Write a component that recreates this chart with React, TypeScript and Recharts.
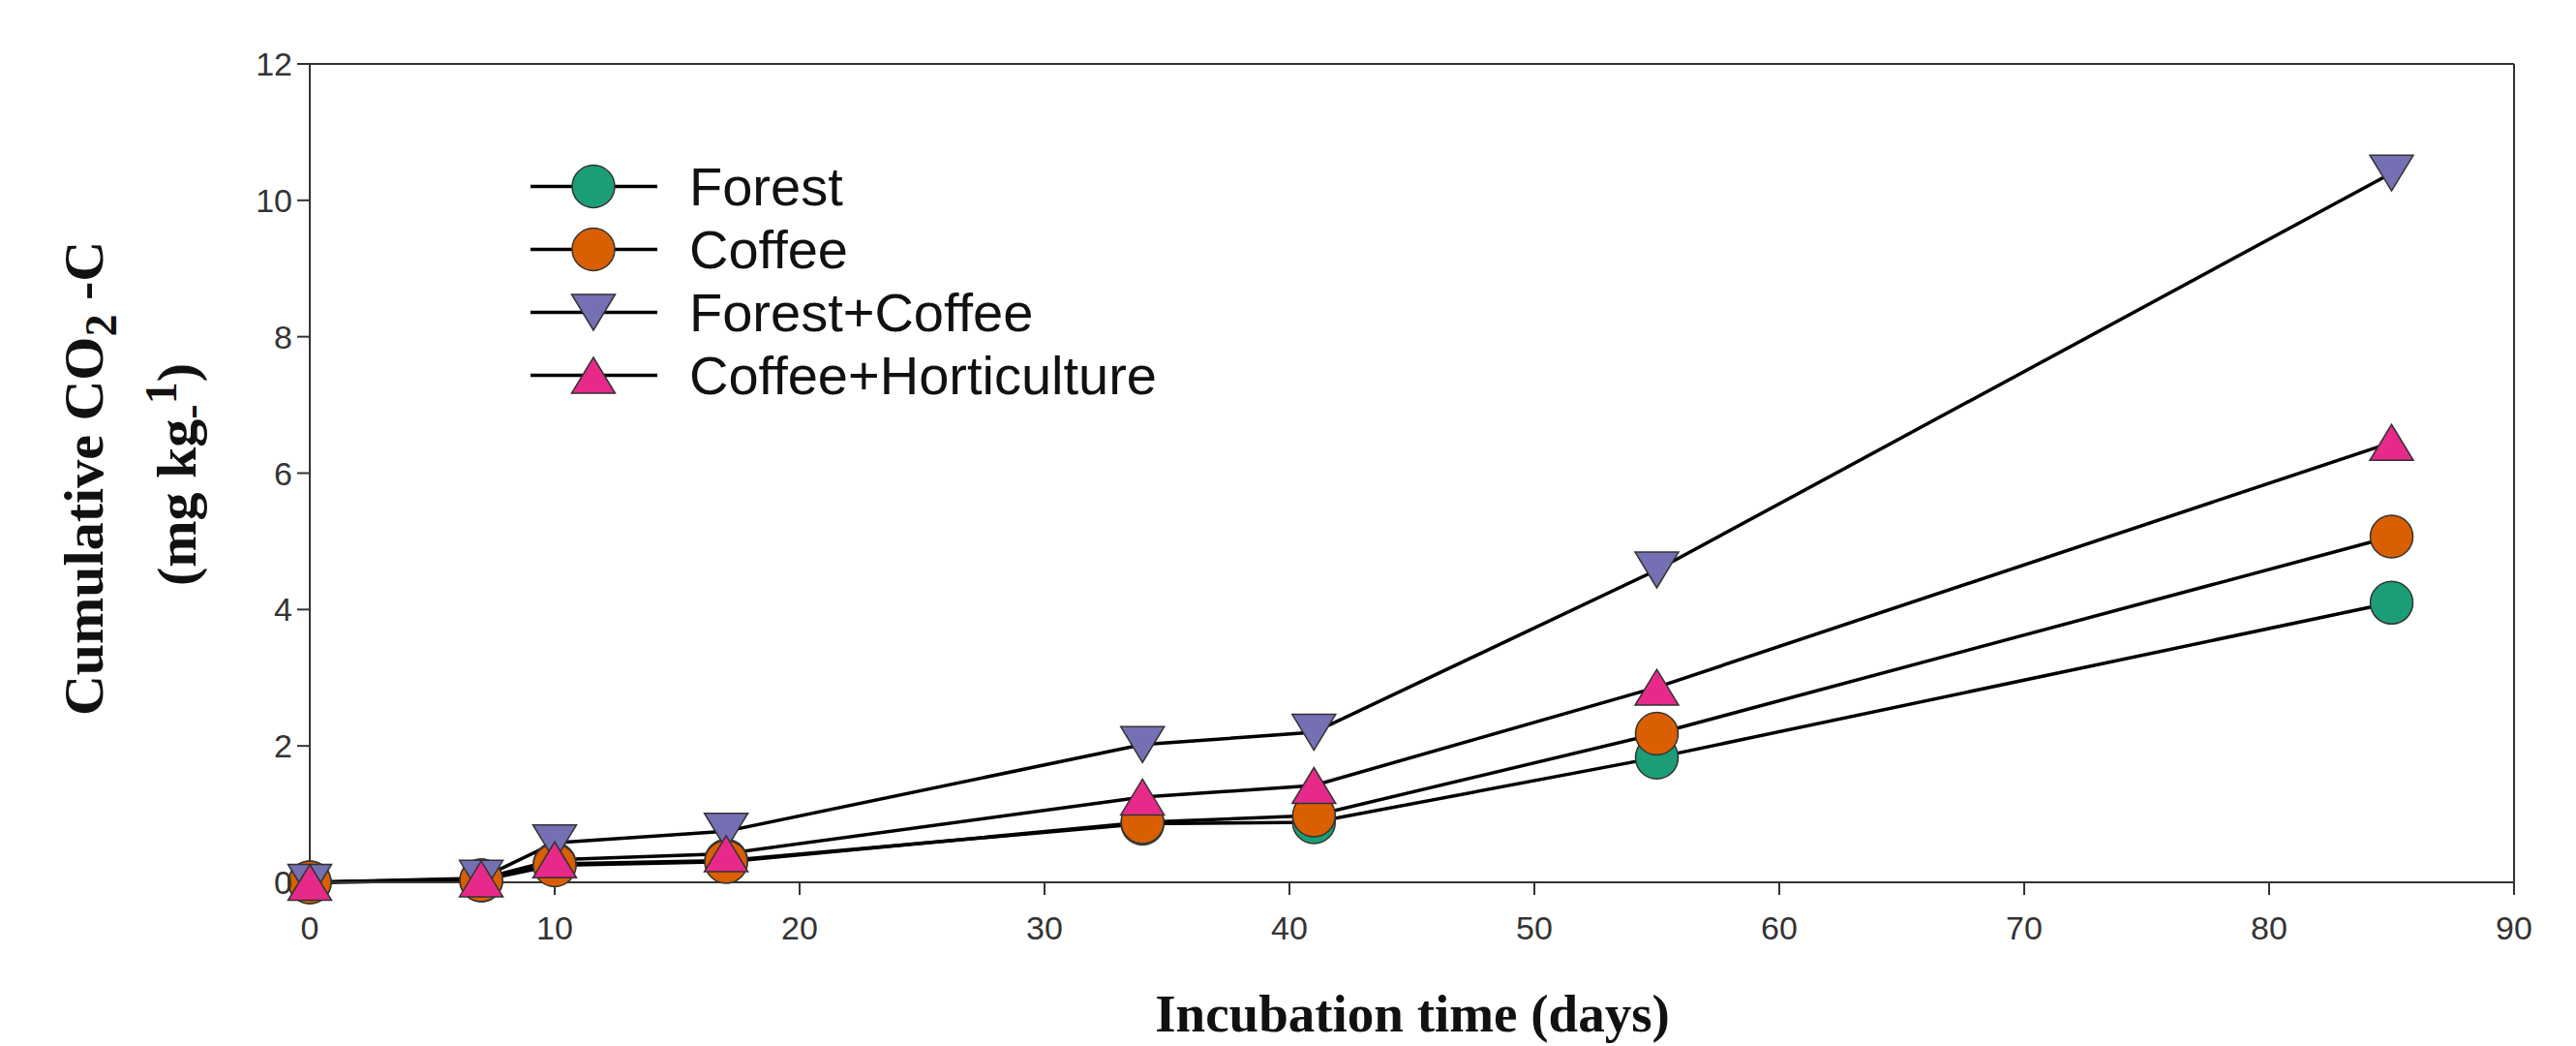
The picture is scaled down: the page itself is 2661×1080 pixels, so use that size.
import { LineChart, Line, XAxis, YAxis, ReferenceLine, Legend } from 'recharts'

// incubation days and cumulative CO2-C per soil
const days = [0, 7, 10, 17, 34, 41, 55, 85]
const forest = [0, 0.03, 0.27, 0.32, 0.86, 0.88, 1.83, 4.1]
const coffee = [0, 0.03, 0.25, 0.3, 0.88, 0.98, 2.18, 5.07]
const forestCoffee = [0, 0.06, 0.58, 0.75, 2.02, 2.2, 4.58, 10.4]
const coffeeHort = [0, 0.05, 0.33, 0.42, 1.25, 1.42, 2.86, 6.45]

const xTicks = [0, 10, 20, 30, 40, 50, 60, 70, 80, 90]
const yTicks = [0, 2, 4, 6, 8, 10, 12]

const series = [
  { key: 'forest', name: 'Forest', color: '#1b9e77', shape: 'circle', values: forest },
  { key: 'coffee', name: 'Coffee', color: '#d95f02', shape: 'circle', values: coffee },
  { key: 'forestCoffee', name: 'Forest+Coffee', color: '#7570b3', shape: 'down', values: forestCoffee },
  { key: 'coffeeHort', name: 'Coffee+Horticulture', color: '#e7298a', shape: 'up', values: coffeeHort },
]

const data = days.map((d, i) => {
  const row: Record<string, number> = { day: d }
  series.forEach(s => { row[s.key] = s.values[i] })
  return row
})

const SANS = "'Liberation Sans', Arial, sans-serif"
const SERIF = "'Liberation Serif', 'Times New Roman', serif"

function Marker({ cx, cy, shape, color }: { cx: number; cy: number; shape: string; color: string }) {
  const w = 45
  const h = 37
  if (shape === 'circle') {
    return <circle cx={cx} cy={cy} r={22} fill={color} stroke="#333" strokeWidth={1.5} />
  }
  const pts = shape === 'down'
    ? `${cx - w / 2},${cy - h / 2} ${cx + w / 2},${cy - h / 2} ${cx},${cy + h / 2}`
    : `${cx - w / 2},${cy + h / 2} ${cx + w / 2},${cy + h / 2} ${cx},${cy - h / 2}`
  return <polygon points={pts} fill={color} stroke="#333" strokeWidth={1.5} />
}

const makeDot = (shape: string, color: string, name: string) => (props: any) => {
  const { cx, cy, index } = props
  return (
    <g key={`${name}-${index}`}>
      <Marker cx={cx} cy={cy} shape={shape} color={color} />
    </g>
  )
}

const YTitle = () => (
  <g fontFamily={SERIF} fontWeight="bold" fontSize={58} fill="#111">
    <text transform="translate(106,494) rotate(-90)" textAnchor="middle">
      Cumulative CO<tspan dy={14} fontSize={46}>2</tspan>
      <tspan dy={-14}>{' -C'}</tspan>
    </text>
    <text transform="translate(202,490) rotate(-90)" textAnchor="middle">
      (mg kg<tspan dy={10} fontSize={46}>-</tspan>
      <tspan dy={-30} fontSize={46}>1</tspan>
      <tspan dy={20}>)</tspan>
    </text>
  </g>
)

const XTitle = () => (
  <text x={1459} y={1065} textAnchor="middle" fontFamily={SERIF} fontWeight="bold" fontSize={55} fill="#111">
    Incubation time (days)
  </text>
)

const LegendBox = () => (
  <div style={{ fontFamily: SANS, fontSize: 56, color: '#111' }}>
    {series.map(s => (
      <div key={s.key} style={{ display: 'flex', alignItems: 'center', height: 65, lineHeight: '65px' }}>
        <svg width={131} height={65} style={{ display: 'block' }}>
          <line x1={0} x2={131} y1={32.5} y2={32.5} stroke="#000" strokeWidth={3.5} />
          <Marker cx={65} cy={32.5} shape={s.shape} color={s.color} />
        </svg>
        <span style={{ marginLeft: 33, whiteSpace: 'nowrap' }}>{s.name}</span>
      </div>
    ))}
  </div>
)

export default function App() {
  return (
    <div style={{ position: 'absolute', left: 0, top: 0, width: 2661, height: 1080, background: '#fff' }}>
      <LineChart width={2661} height={1080} data={data} margin={{ top: 66, right: 64, bottom: 0, left: 0 }}>
        <XAxis
          dataKey="day"
          type="number"
          domain={[0, 90]}
          ticks={xTicks}
          interval={0}
          height={169}
          stroke="#333"
          strokeWidth={2}
          tickSize={13}
          tickMargin={22}
          tick={{ fontFamily: SANS, fontSize: 34, fill: '#333' }}
          label={<XTitle />}
        />
        <YAxis
          type="number"
          domain={[0, 12]}
          ticks={yTicks}
          interval={0}
          width={320}
          stroke="#333"
          strokeWidth={2}
          tickSize={13}
          tickMargin={5}
          tick={{ fontFamily: SANS, fontSize: 34, fill: '#333' }}
          label={<YTitle />}
        />
        <ReferenceLine y={12} stroke="#333" strokeWidth={2} />
        <ReferenceLine x={90} stroke="#333" strokeWidth={2} />
        <Legend
          layout="vertical"
          align="center"
          verticalAlign="middle"
          content={<LegendBox />}
          wrapperStyle={{ left: 548, top: 160, width: 'auto', height: 'auto' }}
        />
        {series.map(s => (
          <Line
            key={s.key}
            dataKey={s.key}
            name={s.name}
            type="linear"
            stroke="#000"
            strokeWidth={3.5}
            dot={makeDot(s.shape, s.color, s.key)}
            activeDot={false}
            isAnimationActive={false}
          />
        ))}
      </LineChart>
    </div>
  )
}
